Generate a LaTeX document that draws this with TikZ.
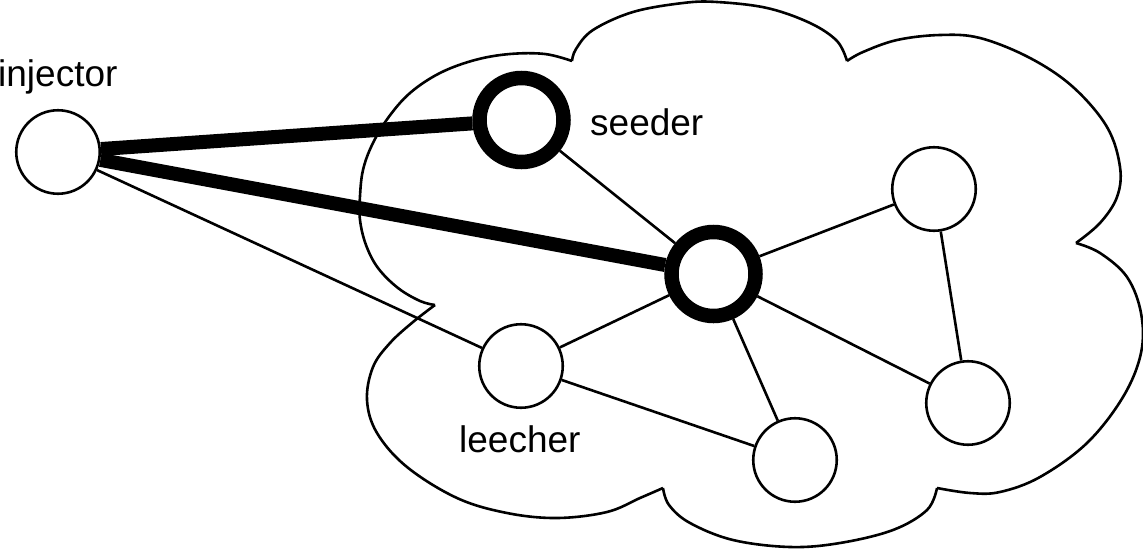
\documentclass[tikz,border=0pt]{standalone}
\usepackage{fontspec}
\setmainfont{Liberation Sans}
\begin{document}
\begin{tikzpicture}[x=1pt,y=-1pt,
  peer/.style={circle,draw,fill=white,line width=2.6pt,minimum size=83.5pt,inner sep=0pt},
  hotpeer/.style={circle,draw,fill=white,line width=14.5pt,minimum size=84pt,inner sep=0pt},
  thin/.style={line width=2.6pt},
  thick/.style={line width=14pt},
  cloudline/.style={line width=2.6pt,line join=round},
  lbl/.style={anchor=base west,inner sep=0pt,font=\fontsize{37}{40}\selectfont}]
\useasboundingbox (0,0) rectangle (1143,549);
% cloud
\draw[cloudline] plot[smooth,tension=0.6] coordinates {(435,305) (420,301) (398,288) (378,268) (366,245) (360,220) (360,196) (363,170) (372,145) (388,118) (410,93) (440,73) (475,60) (510,54) (545,54) (572,61)};
\draw[cloudline] plot[smooth,tension=0.6] coordinates {(572,61) (576,49) (593,30) (633,12) (683,3) (717,2) (767,8) (810,23) (837,41) (847,61)};
\draw[cloudline] plot[smooth,tension=0.6] coordinates {(847,61) (863,52) (897,40) (940,35) (980,38) (1030,58) (1073,87) (1107,127) (1120,167) (1117,197) (1100,223) (1076,243)};
\draw[cloudline] plot[smooth,tension=0.6] coordinates {(1076,243) (1100,253) (1127,277) (1141,313) (1141,353) (1123,397) (1087,443) (1040,477) (1000,492) (970,493) (937,488)};
\draw[cloudline] plot[smooth,tension=0.6] coordinates {(937,488) (927,510) (893,530) (840,543) (790,547) (733,540) (690,523) (669,505) (663,488)};
\draw[cloudline] plot[smooth,tension=0.6] coordinates {(663,488) (640,498) (607,512) (557,518) (507,513) (457,498) (407,467) (377,433) (367,400) (373,367) (390,343) (413,322) (435,305)};
% nodes
\node[peer] (inj) at (58,152) {};
\node[hotpeer] (seed) at (521.5,120) {};
\node[hotpeer] (hub) at (713.5,274) {};
\node[peer] (tr) at (934,189) {};
\node[peer] (rt) at (968,403) {};
\node[peer] (bt) at (795,460) {};
\node[peer] (lee) at (521,366) {};
% edges
\draw[thin] (inj) -- (lee);
\draw[thin] (seed) -- (hub);
\draw[thin] (hub) -- (tr);
\draw[thin] (hub) -- (lee);
\draw[thin] (hub) -- (bt);
\draw[thin] (hub) -- (rt);
\draw[thin] (tr) -- (rt);
\draw[thin] (lee) -- (bt);
\draw[thick] (inj) -- (seed);
\draw[thick] (inj) -- (hub);
% labels
\node[lbl] (linj) at (-2,86) {injector};
\node[lbl] (lseed) at (590,135) {seeder};
\node[lbl] (llee) at (459,452) {leecher};
\end{tikzpicture}
\end{document}
